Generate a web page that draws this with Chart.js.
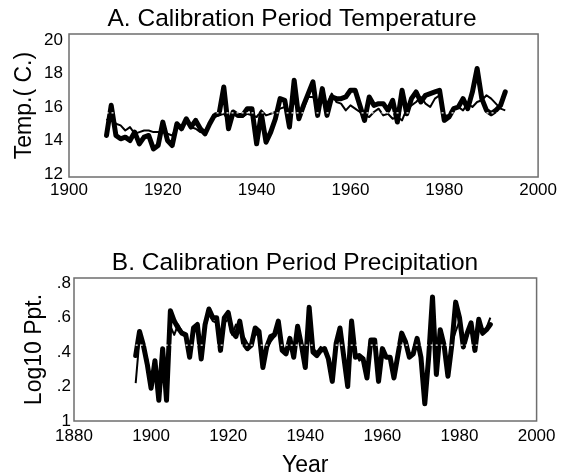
<!DOCTYPE html>
<html lang="en">
<head>
  <meta charset="UTF-8" />
  <title>Calibration Period Temperature and Precipitation</title>
  <script src="https://cdn.jsdelivr.net/npm/chart.js"></script>
  <style>
    body {
      margin: 0;
      background: #fff;
      overflow: hidden;
      width: 562px;
      height: 475px;
      position: relative;
    }
    canvas { position: absolute; left: 0; }
    #tempChart { top: 0; }
    #pptChart { top: 240px; }
  </style>
</head>
<body>
  <canvas id="tempChart" width="562" height="215"></canvas>
  <canvas id="pptChart" width="562" height="235"></canvas>

<script>
  // A. temperature, 1908-1993
  const tempStart = 1908;
  const tempObserved = [
    14.3, 16.1, 14.3, 14.1, 14.2, 14.0, 14.5, 13.8, 14.2, 14.3,
    13.5, 13.7, 15.1, 14.0, 13.7, 15.0, 14.7, 15.3, 14.8, 15.2,
    14.7, 14.4, 15.0, 15.5, 15.6, 17.2, 14.7, 15.7, 15.5, 15.5,
    15.9, 15.9, 13.8, 15.6, 13.9, 14.5, 15.3, 16.5, 16.4, 14.8,
    17.6, 15.3, 16.1, 16.8, 17.5, 15.5, 17.1, 15.5, 16.6, 16.5,
    16.5, 16.6, 17.0, 17.0, 16.1, 15.2, 16.6, 16.1, 16.2, 16.2,
    15.8, 16.4, 15.1, 17.0, 15.6, 16.5, 16.9, 16.3, 16.7, 16.8,
    16.9, 17.0, 15.2, 15.4, 15.9, 16.0, 16.5, 15.9, 16.9, 18.3,
    16.5, 15.8, 15.6, 15.8, 16.1, 16.9
  ];
  const tempPredicted = [
    15.2, 15.5, 15.0, 14.9, 14.6, 14.8, 14.4, 14.5, 14.6, 14.6,
    14.5, 14.5, 14.5, 14.4, 14.3, 14.8, 14.9, 15.1, 14.8, 14.7,
    14.5, 14.6, 15.0, 15.4, 15.5, 15.6, 15.2, 15.5, 15.6, 15.4,
    15.6, 15.5, 15.4, 15.8, 15.5, 15.6, 15.7, 15.9, 16.0, 15.7,
    16.3, 15.8, 15.9, 16.6, 16.6, 16.2, 16.3, 16.2, 16.8, 16.3,
    16.2, 15.8, 16.1, 15.9, 15.7, 15.5, 15.4, 15.7, 15.9, 15.5,
    15.6, 15.3, 15.4, 15.2, 15.9, 16.1, 16.3, 16.6, 16.2, 16.0,
    16.5, 16.7, 15.5, 15.5, 15.9, 16.0, 15.8, 16.2, 16.0, 16.3,
    16.4, 16.7, 16.5, 16.2, 15.9, 15.8
  ];
  const tempMean = 15.65;
  const tempTicks = [12, 14, 16, 18, 20];

  // B. precipitation (log10), 1896-1988
  const pptStart = 1896;
  const pptObserved = [
    0.38, 0.52, 0.44, 0.33, 0.19, 0.35, 0.12, 0.42, 0.12, 0.64,
    0.58, 0.54, 0.51, 0.50, 0.37, 0.54, 0.56, 0.36, 0.56, 0.65,
    0.60, 0.60, 0.41, 0.60, 0.63, 0.52, 0.49, 0.58, 0.45, 0.42,
    0.44, 0.54, 0.52, 0.31, 0.43, 0.49, 0.50, 0.58, 0.41, 0.39,
    0.48, 0.37, 0.55, 0.44, 0.31, 0.66, 0.40, 0.38, 0.41, 0.42,
    0.36, 0.23, 0.45, 0.54, 0.37, 0.20, 0.58, 0.37, 0.38, 0.36,
    0.25, 0.47, 0.47, 0.23, 0.42, 0.37, 0.37, 0.25, 0.38, 0.51,
    0.46, 0.37, 0.39, 0.48, 0.37, 0.10, 0.37, 0.72, 0.27, 0.53,
    0.44, 0.26, 0.44, 0.69, 0.60, 0.43, 0.51, 0.57, 0.41, 0.59,
    0.51, 0.53, 0.56
  ];
  const pptPredicted = [
    0.22, 0.48, 0.42, 0.36, 0.22, 0.33, 0.16, 0.38, 0.16, 0.55,
    0.50, 0.56, 0.52, 0.48, 0.40, 0.51, 0.54, 0.37, 0.54, 0.62,
    0.58, 0.57, 0.44, 0.57, 0.59, 0.50, 0.56, 0.52, 0.49, 0.45,
    0.43, 0.51, 0.49, 0.34, 0.42, 0.46, 0.49, 0.55, 0.44, 0.40,
    0.46, 0.39, 0.52, 0.46, 0.34, 0.60, 0.42, 0.40, 0.43, 0.41,
    0.37, 0.27, 0.43, 0.51, 0.39, 0.24, 0.54, 0.40, 0.35, 0.37,
    0.28, 0.44, 0.45, 0.27, 0.41, 0.38, 0.36, 0.28, 0.39, 0.48,
    0.45, 0.39, 0.40, 0.46, 0.38, 0.15, 0.36, 0.66, 0.30, 0.50,
    0.46, 0.29, 0.45, 0.52, 0.58, 0.45, 0.49, 0.55, 0.44, 0.56,
    0.50, 0.54, 0.60
  ];
  const pptMean = 0.44;
  const pptTicks = [0, 0.2, 0.4, 0.6, 0.8];
  const pptTickLabels = ['1', '.2', '.4', '.6', '.8'];

  const fontFamily = '"Liberation Sans", Arial, Helvetica, sans-serif';
  Chart.defaults.font.family = fontFamily;
  Chart.defaults.color = '#000';

  // frame around the plot area + the panel heading
  const panelPlugin = {
    id: 'panel',
    beforeDatasetsDraw(chart, args, opts) {
      const a = chart.chartArea;
      const ctx = chart.ctx;
      ctx.save();
      ctx.strokeStyle = '#6e6e6e';
      ctx.lineWidth = 1.5;
      ctx.strokeRect(a.left, a.top, a.right - a.left, a.bottom - a.top);
      ctx.fillStyle = '#000';
      ctx.font = '24.5px ' + fontFamily;
      ctx.textAlign = 'center';
      ctx.textBaseline = 'middle';
      ctx.fillText(opts.text, opts.x, opts.y);
      ctx.restore();
    }
  };

  function points(start, values) {
    return values.map((v, i) => ({ x: start + i, y: v }));
  }

  function makeDatasets(start, observed, predicted, mean) {
    const end = start + observed.length - 1;
    return [
      {
        label: 'Mean',
        data: [{ x: start, y: mean }, { x: end, y: mean }],
        borderColor: '#fff',
        borderWidth: 1.2,
        borderDash: [2, 3],
        pointRadius: 0
      },
      {
        label: 'Predicted',
        data: points(start, predicted),
        borderColor: '#000',
        borderWidth: 2,
        pointRadius: 0,
        borderJoinStyle: 'round'
      },
      {
        label: 'Observed',
        data: points(start, observed),
        borderColor: '#000',
        borderWidth: 5,
        pointRadius: 0,
        borderJoinStyle: 'round',
        borderCapStyle: 'round'
      }
    ];
  }

  const tickFont = { size: 17, lineHeight: 1 };

  new Chart(document.getElementById('tempChart'), {
    type: 'line',
    data: { datasets: makeDatasets(tempStart, tempObserved, tempPredicted, tempMean) },
    options: {
      responsive: false,
      animation: false,
      layout: { padding: { left: 0, right: 22, top: 34, bottom: 0 } },
      plugins: {
        legend: { display: false },
        tooltip: { enabled: false },
        panel: { text: 'A. Calibration Period Temperature', x: 292, y: 19 }
      },
      scales: {
        x: {
          type: 'linear',
          min: 1900,
          max: 2000,
          grid: { display: false, drawTicks: false },
          border: { display: false },
          ticks: { stepSize: 20, font: tickFont, padding: 5, maxRotation: 0, autoSkip: false,
                   callback: v => String(v) },
          afterFit: s => { s.height = 38; }
        },
        y: {
          min: 11.82,
          max: 20.36,
          grid: { display: false, drawTicks: false },
          border: { display: false },
          afterBuildTicks: s => { s.ticks = tempTicks.map(v => ({ value: v })); },
          ticks: { font: tickFont, padding: 6 },
          title: {
            display: true,
            text: 'Temp.( C.)',
            font: { size: 23, lineHeight: 1 },
            padding: { top: 13.5, bottom: 0 }
          },
          afterFit: s => { s.width = 69; }
        }
      }
    },
    plugins: [panelPlugin]
  });

  new Chart(document.getElementById('pptChart'), {
    type: 'line',
    data: { datasets: makeDatasets(pptStart, pptObserved, pptPredicted, pptMean) },
    options: {
      responsive: false,
      animation: false,
      layout: { padding: { left: 0, right: 21, top: 38, bottom: 0 } },
      plugins: {
        legend: { display: false },
        tooltip: { enabled: false },
        panel: { text: 'B. Calibration Period Precipitation', x: 295, y: 23 }
      },
      scales: {
        x: {
          type: 'linear',
          min: 1880,
          max: 2000,
          grid: { display: false, drawTicks: false },
          border: { display: false },
          ticks: { stepSize: 20, font: tickFont, padding: 6.5, maxRotation: 0, autoSkip: false,
                   callback: v => String(v) },
          title: {
            display: true,
            text: 'Year',
            font: { size: 23, lineHeight: 0.8 },
            padding: { top: 0, bottom: 0 }
          },
          afterFit: s => { s.height = 54; }
        },
        y: {
          min: 0,
          max: 0.83,
          grid: { display: false, drawTicks: false },
          border: { display: false },
          afterBuildTicks: s => { s.ticks = pptTicks.map(v => ({ value: v })); },
          ticks: {
            font: tickFont,
            padding: 3,
            callback: (v, i) => pptTickLabels[i]
          },
          title: {
            display: true,
            text: 'Log10 Ppt.',
            font: { size: 23, lineHeight: 1 },
            padding: { top: 23.5, bottom: 0 }
          },
          afterFit: s => { s.width = 74; }
        }
      }
    },
    plugins: [panelPlugin]
  });
</script>
</body>
</html>
